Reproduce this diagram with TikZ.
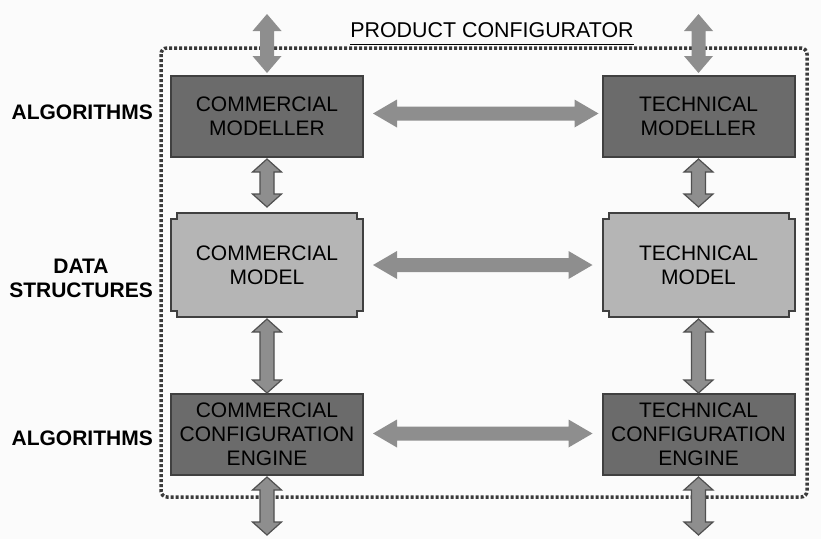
\documentclass[tikz,border=0pt]{standalone}
\usepackage{fontspec}
\setmainfont{Liberation Sans}
\usetikzlibrary{calc,backgrounds}
\definecolor{darkbox}{HTML}{6B6B6B}
\definecolor{lightbox}{HTML}{B5B5B5}
\definecolor{boxline}{HTML}{404040}
\definecolor{arrowgray}{HTML}{8E8E8E}
\definecolor{arrowline}{HTML}{505050}
\definecolor{bggray}{HTML}{FBFBFB}
\definecolor{dotgray}{HTML}{3A3A3A}
% vertical double arrow: style, head length, top point, bottom point
\newcommand\vdarrow[4]{\path[#1] let \p1=(#3), \p2=(#4) in
  (\x1,\y1) -- (\x1+14.5pt,\y1-#2) -- (\x1+7pt,\y1-#2) -- (\x1+7pt,\y2+#2) -- (\x1+14.5pt,\y2+#2)
  -- (\x1,\y2) -- (\x1-14.5pt,\y2+#2) -- (\x1-7pt,\y2+#2) -- (\x1-7pt,\y1-#2) -- (\x1-14.5pt,\y1-#2) -- cycle;}
% horizontal double arrow: style, head length, left point, right point
\newcommand\hdarrow[4]{\path[#1] let \p1=(#3), \p2=(#4) in
  (\x1,\y1) -- (\x1+#2,\y1+14pt) -- (\x1+#2,\y1+7pt) -- (\x2-#2,\y1+7pt) -- (\x2-#2,\y1+14pt)
  -- (\x2,\y1) -- (\x2-#2,\y1-14pt) -- (\x2-#2,\y1-7pt) -- (\x1+#2,\y1-7pt) -- (\x1+#2,\y1-14pt) -- cycle;}
% notched outline around a node
\newcommand\notched[1]{\path[modelbox] ([xshift=6pt]#1.north west) -- ([xshift=-6pt]#1.north east)
  -- ++(0,-6pt) -- ++(6pt,0) -- ([yshift=6pt]#1.south east) -- ++(-6pt,0) -- ++(0,-6pt)
  -- ([xshift=6pt]#1.south west) -- ++(0,6pt) -- ++(-6pt,0) -- ([yshift=-6pt]#1.north west)
  -- ++(6pt,0) -- cycle;}
\tikzset{
  boxtext/.style={font=\fontsize{21}{24}\selectfont, align=center, inner sep=0pt, outer sep=0pt,
    minimum width=192pt, text=black},
  algobox/.style={boxtext, draw=boxline, line width=2pt, fill=darkbox, minimum height=81pt},
  databox/.style={boxtext, minimum height=104pt},
  modelbox/.style={draw=boxline, line width=2pt, fill=lightbox},
  sidelabel/.style={font=\fontsize{21}{24}\selectfont\bfseries, align=center, inner sep=0pt, anchor=east},
  plainarrow/.style={fill=arrowgray},
  linedarrow/.style={fill=arrowgray, draw=arrowline, line width=1.2pt, line join=miter},
  frame/.style={draw=dotgray, line width=3.5pt, dash pattern=on 3pt off 2pt, rounded corners=6pt}
}
\begin{document}
\begin{tikzpicture}[x=1pt, y=-1pt]
\useasboundingbox (0,0) rectangle (821,539);
% frame
\draw[frame] (161,48) rectangle (807,497);
\node[font=\fontsize{21.4}{24}\selectfont, inner sep=0pt, anchor=base] (title) at (492,37) {PRODUCT CONFIGURATOR};
\draw[line width=1pt] ([yshift=-7pt]title.base west) -- ([yshift=-7pt]title.base east);
% boxes
\node[algobox] (cm) at (267,116.5) {COMMERCIAL\\MODELLER};
\node[algobox] (tm) at (698.5,116.5) {TECHNICAL\\MODELLER};
\node[databox] (cmo) at (267,265) {COMMERCIAL\\MODEL};
\node[databox] (tmo) at (698.5,265) {TECHNICAL\\MODEL};
\node[algobox] (ce) at (267,434.5) {COMMERCIAL\\CONFIGURATION\\ENGINE};
\node[algobox] (te) at (698.5,434.5) {TECHNICAL\\CONFIGURATION\\ENGINE};
\begin{scope}[on background layer]
  \fill[bggray] (0,0) rectangle (821,539);
  \notched{cmo}
  \notched{tmo}
\end{scope}
% side labels
\node[sidelabel] (l1) at (153,112) {ALGORITHMS};
\node[sidelabel] (l2) at (153,278) {DATA\\STRUCTURES};
\node[sidelabel] (l3) at (153,438) {ALGORITHMS};
% free ends
\coordinate (ctop) at (267,14);
\coordinate (ttop) at (698.5,14);
\coordinate (cbot) at (267,535);
\coordinate (tbot) at (698.5,535);
% vertical arrows
\vdarrow{plainarrow}{17pt}{ctop}{[yshift=3pt]cm.north}
\vdarrow{plainarrow}{17pt}{ttop}{[yshift=3pt]tm.north}
\vdarrow{linedarrow}{13pt}{[yshift=-2pt]cm.south}{[yshift=6pt]cmo.north}
\vdarrow{linedarrow}{13pt}{[yshift=-2pt]tm.south}{[yshift=6pt]tmo.north}
\vdarrow{linedarrow}{13pt}{[yshift=-2pt]cmo.south}{[yshift=1pt]ce.north}
\vdarrow{linedarrow}{13pt}{[yshift=-2pt]tmo.south}{[yshift=1pt]te.north}
\vdarrow{linedarrow}{13pt}{[yshift=-2pt]ce.south}{cbot}
\vdarrow{linedarrow}{13pt}{[yshift=-2pt]te.south}{tbot}
% horizontal arrows
\hdarrow{plainarrow}{24pt}{[xshift=10pt,yshift=3pt]cm.east}{[xshift=-4pt,yshift=3pt]tm.west}
\hdarrow{plainarrow}{24pt}{[xshift=10pt]cmo.east}{[xshift=-10pt]tmo.west}
\hdarrow{plainarrow}{24pt}{[xshift=10pt,yshift=1pt]ce.east}{[xshift=-10pt,yshift=1pt]te.west}
\end{tikzpicture}
\end{document}
